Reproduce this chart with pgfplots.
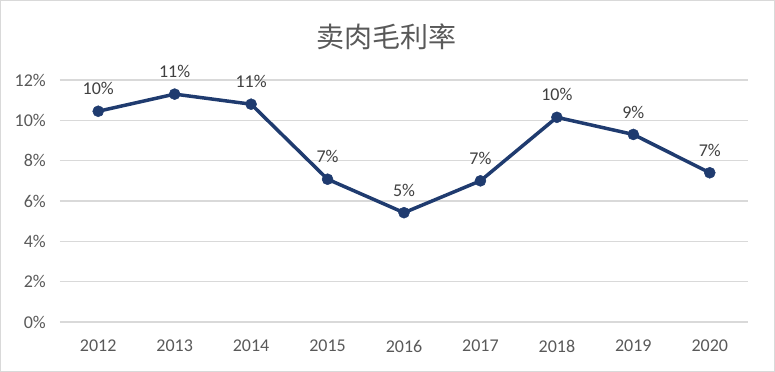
\documentclass[border=0pt]{standalone}
\usepackage{pgfplots}
\pgfplotsset{compat=1.18}
\usepackage{fontspec}
\setmainfont{Carlito}
\newfontfamily\cjk{Noto Sans CJK SC}
\definecolor{linec}{HTML}{1F3B6F}
\definecolor{gridc}{HTML}{D9D9D9}
\definecolor{txtc}{HTML}{595959}
\definecolor{labc}{HTML}{404040}
\begin{document}
\begin{tikzpicture}
\draw[gridc, line width=1bp] (-59.5bp,-49.5bp) rectangle (714.5bp,321.5bp);
\begin{axis}[
  scale only axis,
  width=688bp, height=242bp,
  xmin=-0.5, xmax=8.5, ymin=0, ymax=12,
  axis line style={draw=none},
  xtick={0,...,8},
  xticklabels={2012,2013,2014,2015,2016,2017,2018,2019,2020},
  ytick={0,2,...,12},
  yticklabel={\pgfmathprintnumber{\tick}\%},
  /pgf/number format/assume math mode=true,
  ymajorgrids, grid style={gridc, line width=1.2bp},
  major tick length=0pt,
  tick label style={font=\fontsize{18bp}{20bp}\selectfont, text=txtc, inner sep=2bp},
  xticklabel style={yshift=-16bp},
  yticklabel style={xshift=-12bp},
  clip=false,
]
\addplot[linec, line width=3.5bp, mark=*, mark size=5.5bp,
  mark options={fill=linec, draw=linec, line width=0.5bp},
  nodes near coords={\pgfmathprintnumber[fixed,precision=0]{\pgfplotspointmeta}\%},
  point meta=y,
  nodes near coords style={font=\fontsize{18bp}{20bp}\selectfont, text=labc, anchor=south, inner sep=2bp, yshift=14bp},
] coordinates {
(0,10.45) (1,11.3) (2,10.8) (3,7.08) (4,5.42) (5,7.0) (6,10.15) (7,9.3) (8,7.4)
};
\end{axis}
\node[text=txtc, font=\cjk\fontsize{28bp}{32bp}\selectfont] at (326bp,285bp) {卖肉毛利率};
\end{tikzpicture}
\end{document}
